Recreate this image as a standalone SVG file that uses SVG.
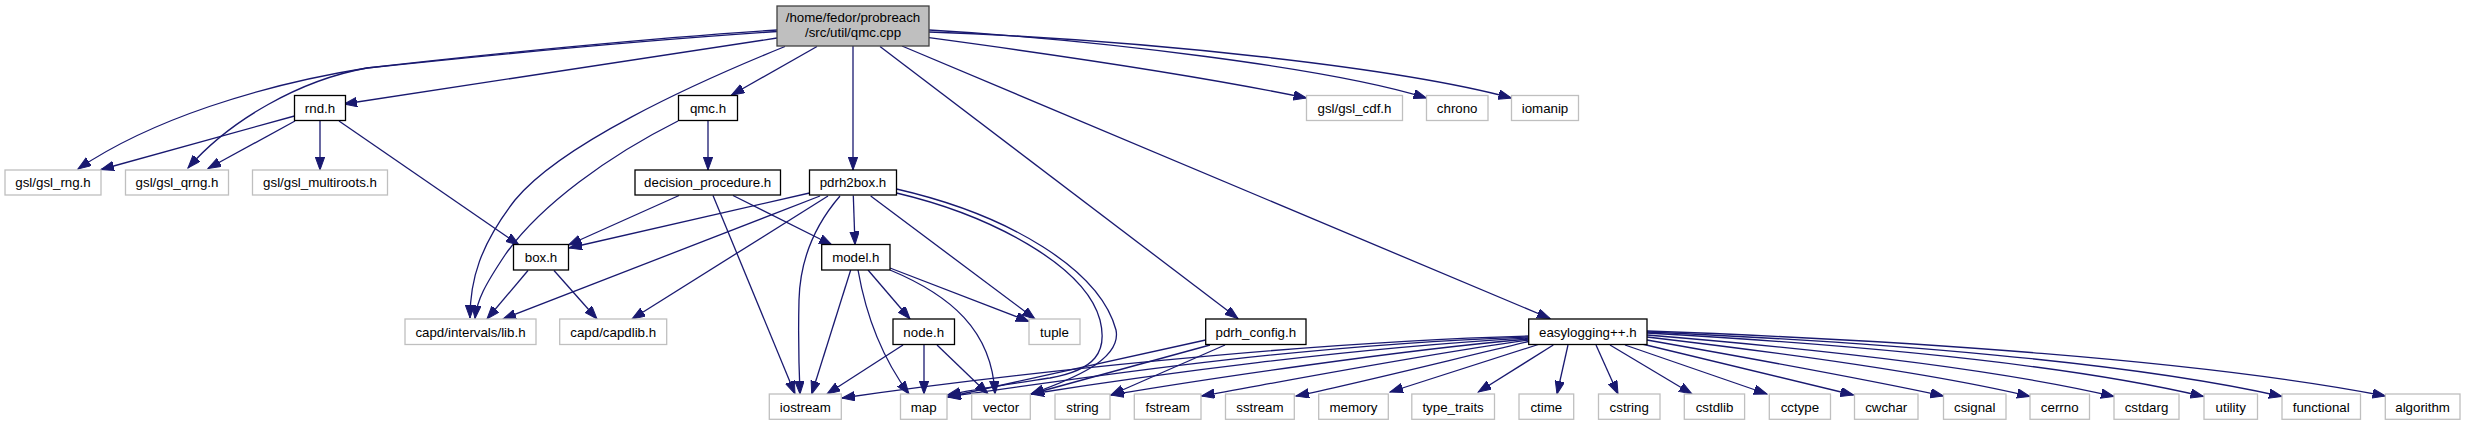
<svg xmlns="http://www.w3.org/2000/svg" width="2465" height="425" viewBox="0 0 2465 425">
<defs>
<style>
rect{fill:#fff;stroke-width:1.3}
.d rect{stroke:#000}
.x rect{stroke:#bfbfbf}
.r rect{fill:#bfbfbf;stroke:#404040}
text{font-family:"Liberation Sans",Arial,sans-serif;font-size:13.3px;text-anchor:middle;fill:#000}
#edges path{fill:none;stroke:#191970;stroke-width:1.3;marker-end:url(#ah)}
</style>
<marker id="ah" markerUnits="userSpaceOnUse" markerWidth="14" markerHeight="10" refX="13" refY="4.7" orient="auto">
<path d="M0,0 L13,4.7 L0,9.4 z" fill="#191970" stroke="#191970" stroke-width="1"/>
</marker>
</defs>
<rect x="0" y="0" width="2465" height="425" style="fill:#fff;stroke:none"/>
<g id="edges">
<path d="M777,30 C650,38 480,55 367,68 C260,85 150,120 78,169"/>
<path d="M777,31.5 C650,40 480,56 367,68 C300,80 230,120 188,168"/>
<path d="M777,38 L344,104"/>
<path d="M785,46.5 C690,85 560,145 515,200 C480,245 470,280 470,318"/>
<path d="M817,46.5 L731.5,95"/>
<path d="M853,46 L853,170"/>
<path d="M880,46.5 L1238,318.5"/>
<path d="M902,46 L1550,318.5"/>
<path d="M929,37.7 C1050,54 1200,76 1306.5,98"/>
<path d="M929,30 C1100,40 1330,68 1426.5,98"/>
<path d="M929,32 C1150,40 1400,68 1511.5,98"/>
<path d="M294.5,116 L101,169.5"/>
<path d="M295,121 L208,168.5"/>
<path d="M320,121 L320,170"/>
<path d="M339,121 L519,245"/>
<path d="M678,121 C610,155 540,205 505,255 C485,285 477,300 475,318.5"/>
<path d="M708,121 L708,170"/>
<path d="M679,195.5 L568.5,245"/>
<path d="M733,195.5 L832,245"/>
<path d="M713,195.5 L795,394"/>
<path d="M809.5,193 L569,248"/>
<path d="M820,196 L503,319"/>
<path d="M828,196 L632,319"/>
<path d="M840,196 C815,225 800,260 799,300 C798,340 799,370 800,394"/>
<path d="M853.3,195.5 L855,244.5"/>
<path d="M870.7,196 L1035,319"/>
<path d="M896.5,189 C1010,215 1100,270 1116,330 C1122,360 1070,380 1031,394"/>
<path d="M896.5,193 C990,215 1085,265 1100,320 C1108,352 1095,370 1050,378 C1010,384 975,389 947.5,395"/>
<path d="M528,270.5 L487,319"/>
<path d="M554,270.5 L597,319"/>
<path d="M868,270 L910,319"/>
<path d="M850.7,270 L811.7,394"/>
<path d="M858,270 C865,310 880,355 909,394"/>
<path d="M890,270 C950,295 992,330 995,394"/>
<path d="M890,268 L1029,321.5"/>
<path d="M903,345 L827,394"/>
<path d="M924,345 L924,394"/>
<path d="M937,345 L988,394"/>
<path d="M1205.7,340 L948,397"/>
<path d="M1210,345 L1031,394"/>
<path d="M1225,345 L1111,395"/>
<path d="M1528.7,336 C1300,342 1000,375 842,398"/>
<path d="M1528.7,337 C1300,345 1100,375 947.5,397"/>
<path d="M1528.7,338 C1350,348 1150,375 1031,394"/>
<path d="M1528.7,339 C1400,350 1200,380 1111,395"/>
<path d="M1528.7,340 C1420,355 1280,382 1201.5,396"/>
<path d="M1528.7,341.5 C1450,360 1350,385 1296,396"/>
<path d="M1538.3,344.5 L1390,392"/>
<path d="M1553.3,345 L1478.3,392"/>
<path d="M1568,345 L1557,394"/>
<path d="M1596,345 L1618,394"/>
<path d="M1610,345 L1692,394"/>
<path d="M1625,345 L1767,394"/>
<path d="M1640,343.5 L1853.5,395"/>
<path d="M1647,340 C1760,360 1870,380 1943.5,396"/>
<path d="M1647,337 C1800,355 1940,375 2030,396.5"/>
<path d="M1647,335 C1830,350 2000,370 2114,396.5"/>
<path d="M1647,333 C1860,345 2070,365 2203.5,396.5"/>
<path d="M1647,332 C1880,342 2130,362 2282,396.5"/>
<path d="M1647,331 C1900,340 2200,360 2385.5,396"/>
</g>
<g id="root" class="r"><rect x="777" y="6" width="152" height="40"/><text x="853" y="21.5">/home/fedor/probreach</text><text x="853" y="37">/src/util/qmc.cpp</text></g>
<g id="rnd" class="d"><rect x="294.5" y="95.5" width="51" height="25"/><text x="320" y="112.8">rnd.h</text></g>
<g id="qmc" class="d"><rect x="678.5" y="95.5" width="59" height="25"/><text x="708" y="112.8">qmc.h</text></g>
<g id="gsl_cdf" class="x"><rect x="1306.5" y="95.5" width="96" height="25"/><text x="1354.5" y="112.8">gsl/gsl_cdf.h</text></g>
<g id="chrono" class="x"><rect x="1426.5" y="95.5" width="61.5" height="25"/><text x="1457.2" y="112.8">chrono</text></g>
<g id="iomanip" class="x"><rect x="1511.5" y="95.5" width="67" height="25"/><text x="1545" y="112.8">iomanip</text></g>
<g id="gsl_rng" class="x"><rect x="5" y="170" width="96" height="25"/><text x="53" y="187.3">gsl/gsl_rng.h</text></g>
<g id="gsl_qrng" class="x"><rect x="125.5" y="170" width="103" height="25"/><text x="177" y="187.3">gsl/gsl_qrng.h</text></g>
<g id="gsl_multiroots" class="x"><rect x="252.5" y="170" width="135" height="25"/><text x="320" y="187.3">gsl/gsl_multiroots.h</text></g>
<g id="decision_procedure" class="d"><rect x="635" y="170" width="145.5" height="25"/><text x="707.7" y="187.3">decision_procedure.h</text></g>
<g id="pdrh2box" class="d"><rect x="809.5" y="170" width="87" height="25"/><text x="853" y="187.3">pdrh2box.h</text></g>
<g id="box" class="d"><rect x="513.5" y="244.5" width="55" height="25.5"/><text x="541" y="262">box.h</text></g>
<g id="model" class="d"><rect x="821.7" y="244.5" width="68.3" height="25.5"/><text x="855.8" y="262">model.h</text></g>
<g id="capd_lib" class="x"><rect x="405" y="319" width="131" height="25.5"/><text x="470.5" y="336.6">capd/intervals/lib.h</text></g>
<g id="capdlib" class="x"><rect x="559.7" y="319" width="107" height="25.5"/><text x="613.2" y="336.6">capd/capdlib.h</text></g>
<g id="node" class="d"><rect x="893" y="319" width="61.5" height="25.5"/><text x="923.7" y="336.6">node.h</text></g>
<g id="tuple" class="x"><rect x="1029" y="319" width="51" height="25.5"/><text x="1054.5" y="336.6">tuple</text></g>
<g id="pdrh_config" class="d"><rect x="1205.7" y="319" width="100.3" height="25.5"/><text x="1255.8" y="336.6">pdrh_config.h</text></g>
<g id="easylogging" class="d"><rect x="1528.7" y="319" width="118.3" height="25.5"/><text x="1587.8" y="336.6">easylogging++.h</text></g>
<g id="iostream" class="x"><rect x="769.3" y="394" width="72" height="25.3"/><text x="805.3" y="411.5">iostream</text></g>
<g id="map" class="x"><rect x="900.5" y="394" width="46.5" height="25.3"/><text x="923.7" y="411.5">map</text></g>
<g id="vector" class="x"><rect x="971.7" y="394" width="58.6" height="25.3"/><text x="1001" y="411.5">vector</text></g>
<g id="string" class="x"><rect x="1055" y="394" width="55" height="25.3"/><text x="1082.5" y="411.5">string</text></g>
<g id="fstream" class="x"><rect x="1134.3" y="394" width="66.7" height="25.3"/><text x="1167.7" y="411.5">fstream</text></g>
<g id="sstream" class="x"><rect x="1225.5" y="394" width="68.8" height="25.3"/><text x="1259.9" y="411.5">sstream</text></g>
<g id="memory" class="x"><rect x="1318.7" y="394" width="69.6" height="25.3"/><text x="1353.5" y="411.5">memory</text></g>
<g id="type_traits" class="x"><rect x="1411.8" y="394" width="82.7" height="25.3"/><text x="1453.1" y="411.5">type_traits</text></g>
<g id="ctime" class="x"><rect x="1519" y="394" width="54.7" height="25.3"/><text x="1546.3" y="411.5">ctime</text></g>
<g id="cstring" class="x"><rect x="1598.5" y="394" width="61.5" height="25.3"/><text x="1629.2" y="411.5">cstring</text></g>
<g id="cstdlib" class="x"><rect x="1684.3" y="394" width="60.3" height="25.3"/><text x="1714.5" y="411.5">cstdlib</text></g>
<g id="cctype" class="x"><rect x="1769.3" y="394" width="61.2" height="25.3"/><text x="1799.9" y="411.5">cctype</text></g>
<g id="cwchar" class="x"><rect x="1854.5" y="394" width="63.5" height="25.3"/><text x="1886.2" y="411.5">cwchar</text></g>
<g id="csignal" class="x"><rect x="1943.5" y="394" width="62.5" height="25.3"/><text x="1974.7" y="411.5">csignal</text></g>
<g id="cerrno" class="x"><rect x="2030" y="394" width="59.5" height="25.3"/><text x="2059.7" y="411.5">cerrno</text></g>
<g id="cstdarg" class="x"><rect x="2114" y="394" width="65" height="25.3"/><text x="2146.5" y="411.5">cstdarg</text></g>
<g id="utility" class="x"><rect x="2204" y="394" width="53.5" height="25.3"/><text x="2230.7" y="411.5">utility</text></g>
<g id="functional" class="x"><rect x="2282" y="394" width="78.5" height="25.3"/><text x="2321.2" y="411.5">functional</text></g>
<g id="algorithm" class="x"><rect x="2385.3" y="394" width="74.7" height="25.3"/><text x="2422.6" y="411.5">algorithm</text></g>
</svg>
